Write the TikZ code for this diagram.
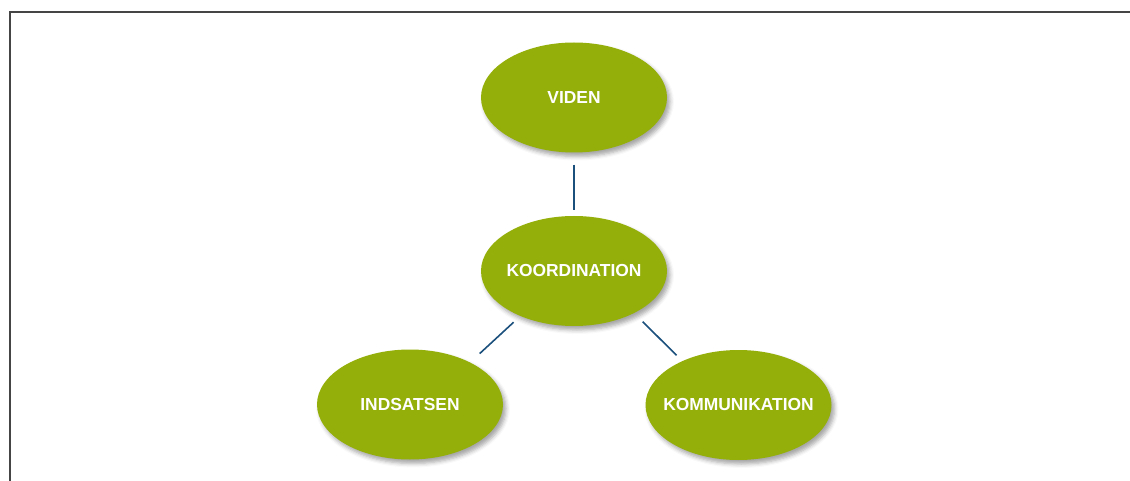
\documentclass[tikz,border=0pt]{standalone}
\usepackage{fontspec}
\setmainfont{Liberation Sans}
\usetikzlibrary{shapes.geometric,shadows.blur}
\definecolor{leaf}{HTML}{94AF0A}
\definecolor{linkblue}{HTML}{1B4F7C}
\definecolor{framegray}{HTML}{454545}
\begin{document}
\begin{tikzpicture}[x=1pt,y=-1pt,
  bubble/.style={ellipse, fill=leaf, draw=none,
    minimum width=186pt, minimum height=110pt, inner sep=0pt,
    text=white, font=\bfseries\fontsize{17.4}{20}\selectfont,
    blur shadow={shadow xshift=3pt, shadow yshift=-4pt,
      shadow blur radius=4pt, shadow opacity=35}},
  link/.style={draw=linkblue, line width=1.6pt}]
\useasboundingbox (0,0) rectangle (1130,481);
% open frame: left and top edges only
\draw[framegray, line width=2pt] (9.8,481) -- (9.8,12) -- (1130,12);

% the four topics
\node[bubble] (viden)  at (574,97.5)  {\makebox[0pt]{VIDEN}};
\node[bubble] (koord)  at (574,271)   {\makebox[0pt]{KOORDINATION}};
\node[bubble] (indsat) at (410,404.5) {\makebox[0pt]{INDSATSEN}};
\node[bubble] (komm)   at (738.5,405) {\makebox[0pt]{KOMMUNIKATION}};

% links from the centre topic
\draw[link, shorten <=12pt, shorten >=6pt] (viden) -- (koord);
\draw[link, shorten <=9pt, shorten >=13pt] (koord.220) -- (indsat.35);
\draw[link, shorten <=12pt, shorten >=8pt] (koord.325) -- (komm.142);
\end{tikzpicture}
\end{document}
